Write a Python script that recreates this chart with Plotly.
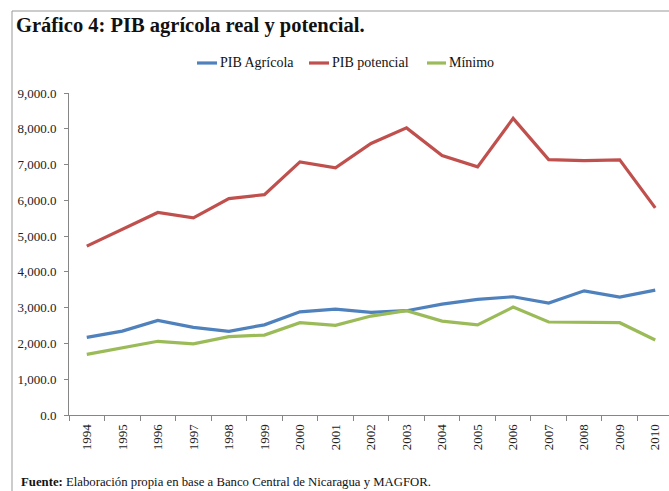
import plotly.graph_objects as go

years = [str(y) for y in range(1994, 2011)]
pib_agricola = [2170, 2345, 2645, 2450, 2340, 2520, 2885, 2960, 2870, 2915, 3100, 3230, 3305, 3130, 3470, 3295, 3490]
pib_potencial = [4720, 5180, 5660, 5510, 6050, 6160, 7075, 6910, 7590, 8025, 7250, 6935, 8290, 7140, 7110, 7130, 5790]
minimo = [1695, 1870, 2060, 1990, 2190, 2235, 2580, 2505, 2765, 2915, 2625, 2520, 3015, 2600, 2580, 2580, 2095]

W, H = 669, 491
ML, MR, MT, MB = 69, 0, 93, 76
PW = W - ML - MR
PH = H - MT - MB

def px(x):
    return (x - ML) / PW

def py(y):
    return (H - MB - y) / PH

serif = "Liberation Serif, DejaVu Serif, serif"
fig = go.Figure()
series = [("PIB Agrícola", pib_agricola, "#4F81BD"),
          ("PIB potencial", pib_potencial, "#C0504D"),
          ("Mínimo", minimo, "#9BBB59")]
for name, vals, col in series:
    fig.add_trace(go.Scatter(x=years, y=vals, mode="lines", name=name,
                             line=dict(color=col, width=3.2), showlegend=False))

fig.update_layout(
    width=W, height=H,
    margin=dict(l=ML, r=MR, t=MT, b=MB),
    paper_bgcolor="white", plot_bgcolor="white",
    font=dict(family=serif, size=13, color="#222"),
    showlegend=False,
    xaxis=dict(type="category", range=[-0.5, -0.5 + PW / 35.53], showline=True,
               linecolor="#868686", linewidth=1, ticks="outside", tickson="boundaries",
               ticklen=5, tickcolor="#868686", tickangle=-90, showgrid=False,
               ticklabelstandoff=3,
               tickfont=dict(family=serif, size=13, color="#222")),
    yaxis=dict(range=[0, 9000], dtick=1000, tickformat=",.1f", showline=True,
               linecolor="#868686", linewidth=1, ticks="outside", ticklen=4,
               tickcolor="#868686", showgrid=False, zeroline=False,
               ticklabelstandoff=5,
               tickfont=dict(family=serif, size=13, color="#222")),
)

fig.add_shape(type="rect", xref="paper", yref="paper",
              x0=px(12), x1=px(700), y0=py(500), y1=py(11),
              line=dict(color="#999", width=1), fillcolor="rgba(0,0,0,0)", layer="below")

# manual legend (short line samples like the original)
leg_y = 63
leg_pos = [(197, 217), (309, 329), (427, 446)]
for (name, vals, col), (a, b) in zip(series, leg_pos):
    fig.add_shape(type="line", xref="paper", yref="paper", x0=px(a), x1=px(b),
                  y0=py(leg_y), y1=py(leg_y), line=dict(color=col, width=3.2))
    fig.add_annotation(text=name, xref="paper", yref="paper", x=px(b + 1), y=py(leg_y),
                       xanchor="left", yanchor="middle", showarrow=False,
                       font=dict(family=serif, size=14, color="#111"))

fig.add_annotation(text="<b>Gráfico 4: PIB agrícola real y potencial.</b>", xref="paper", yref="paper",
                   x=px(14), y=py(25), xanchor="left", yanchor="middle", showarrow=False,
                   font=dict(family=serif, size=20.5, color="#111"))
fig.add_annotation(text="<b>Fuente:</b> Elaboración propia en base a Banco Central de Nicaragua y MAGFOR.",
                   xref="paper", yref="paper", x=px(19), y=py(482), xanchor="left", yanchor="middle",
                   showarrow=False, font=dict(family=serif, size=12.75, color="#111"))

fig.write_html("out.html")
